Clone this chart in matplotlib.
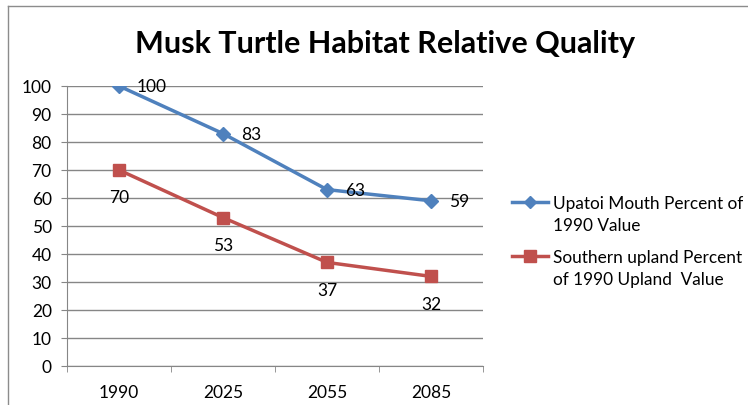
import matplotlib.pyplot as plt
from matplotlib.lines import Line2D

years = ['1990', '2025', '2055', '2085']
upatoi = [100, 83, 63, 59]
southern = [70, 53, 37, 32]
labels = ['Upatoi Mouth Percent of\n1990 Value',
          'Southern upland Percent\nof 1990 Upland  Value']

plt.rcParams['font.family'] = ['Lato', 'DejaVu Sans']

blue = '#4F81BD'
red = '#C0504D'
grid = '#868686'

fig = plt.figure(figsize=(7.48, 4.06), dpi=100)

# chart area border (only top/left visible in the crop)
fig.add_artist(Line2D([8 / 748, 8 / 748], [0, 1 - 7 / 406], color='#8c8c8c', lw=1))
fig.add_artist(Line2D([8 / 748, 1], [1 - 7 / 406, 1 - 7 / 406], color='#8c8c8c', lw=1))

ax = fig.add_axes([67 / 748, 1 - 367 / 406, 416 / 748, 280 / 406])
x = range(len(years))
ax.plot(x, upatoi, color=blue, lw=2.5, marker='D', ms=7)
ax.plot(x, southern, color=red, lw=2.5, marker='s', ms=9)

for i, v in enumerate(upatoi):
    ax.annotate(str(v), (i, v), xytext=(13, 0), textcoords='offset points',
                ha='left', va='center', fontsize=12.5)
for i, v in enumerate(southern):
    ax.annotate(str(v), (i, v), xytext=(0, -14), textcoords='offset points',
                ha='center', va='top', fontsize=12.5)

ax.set_xlim(-0.5, 3.5)
ax.set_ylim(0, 100)
ax.set_yticks(range(0, 101, 10))
ax.set_xticks(list(x))
ax.set_xticklabels(years)
ax.set_xticks([-0.5, 0.5, 1.5, 2.5, 3.5], minor=True)
ax.tick_params(axis='x', which='major', length=0, labelsize=12.5, pad=13)
ax.tick_params(axis='x', which='minor', length=4, color=grid, direction='out')
ax.tick_params(axis='y', length=4, color=grid, labelsize=12.5, pad=7)
ax.grid(axis='y', color=grid, lw=1)
ax.set_axisbelow(True)
for s in ['top', 'right']:
    ax.spines[s].set_visible(False)
for s in ['left', 'bottom']:
    ax.spines[s].set_color(grid)

fig.text(385 / 748, 1 - 44 / 406, 'Musk Turtle Habitat Relative Quality',
         ha='center', va='center', fontsize=22, fontweight='bold')

# legend: key lines up with the first line of each two-line label
W, H = 748, 406
for (ypx, color, marker, ms, label) in [(203, blue, 'D', 6, labels[0]),
                                        (257, red, 's', 8, labels[1])]:
    yf = 1 - ypx / H
    fig.add_artist(Line2D([512 / W, 530 / W, 548 / W], [yf] * 3, color=color,
                          lw=2.5, marker=marker, ms=ms, markevery=[1]))
    fig.text(553 / W, 1 - (ypx - 7) / H, label, ha='left', va='top',
             fontsize=12.4, linespacing=1.45)

fig.savefig('out.png', dpi=100)
